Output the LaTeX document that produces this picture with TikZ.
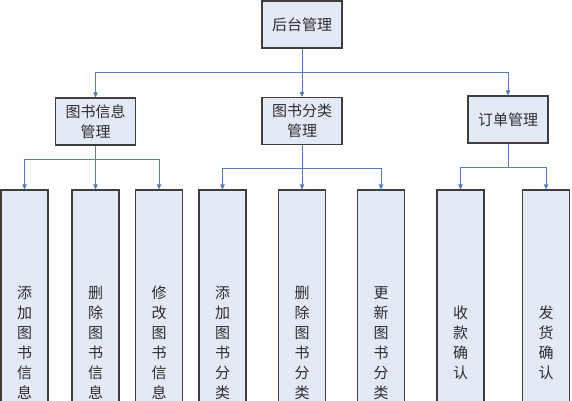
\documentclass[tikz,border=0pt]{standalone}
\usepackage{fontspec}
\newfontfamily\cjkfont{Noto Sans CJK SC}
\usetikzlibrary{arrows.meta}
\definecolor{boxFill}{RGB}{227,234,246}
\definecolor{boxLine}{RGB}{62,62,62}
\definecolor{linkBlue}{RGB}{84,124,188}
\definecolor{textGray}{RGB}{45,45,45}
\begin{document}
\begin{tikzpicture}[x=1pt,y=-1pt,
  box/.style={draw=boxLine,fill=boxFill,line width=1.2pt,inner sep=0pt,text=textGray,
    font=\cjkfont\fontsize{15}{20}\selectfont,align=center},
  top/.style={box,minimum width=80pt,minimum height=47pt},
  leaf/.style={box,minimum width=47pt,minimum height=306pt},
  link/.style={linkBlue,line width=0.9pt,-{Triangle[length=5pt,width=4.5pt]}}]
\useasboundingbox (0,0) rectangle (572,400);
\clip (0,0) rectangle (572,400);
\node[top] (root) at (302,24.5) {后台管理};
\node[top] (info) at (95.5,121.5) {图书信息\\管理};
\node[top] (cat) at (302,121) {图书分类\\管理};
\node[top] (order) at (508,119.5) {订单管理};
\node[leaf] (addbook) at (24.5,343) {添\\加\\图\\书\\信\\息};
\node[leaf] (delbook) at (95.5,343) {删\\除\\图\\书\\信\\息};
\node[leaf] (modbook) at (159,343) {修\\改\\图\\书\\信\\息};
\node[leaf] (addcat) at (222.5,343) {添\\加\\图\\书\\分\\类};
\node[leaf] (delcat) at (302,343) {删\\除\\图\\书\\分\\类};
\node[leaf] (updcat) at (381,343) {更\\新\\图\\书\\分\\类};
\node[leaf] (pay) at (460.5,343) {收\\款\\确\\认};
\node[leaf] (ship) at (546,343) {发\\货\\确\\认};
\draw[link] (root.south) -- ++(0,24) -| (info.north);
\draw[link] (root.south) -- (cat.north);
\draw[link] (root.south) -- ++(0,24) -| (order.north);
\draw[link] (info.south) -- ++(0,14) -| (addbook.north);
\draw[link] (info.south) -- (delbook.north);
\draw[link] (info.south) -- ++(0,14) -| (modbook.north);
\draw[link] (cat.south) -- ++(0,23) -| (addcat.north);
\draw[link] (cat.south) -- (delcat.north);
\draw[link] (cat.south) -- ++(0,23) -| (updcat.north);
\draw[link] (order.south) -- ++(0,24) -| (pay.north);
\draw[link] (order.south) -- ++(0,24) -| (ship.north);
\end{tikzpicture}
\end{document}
